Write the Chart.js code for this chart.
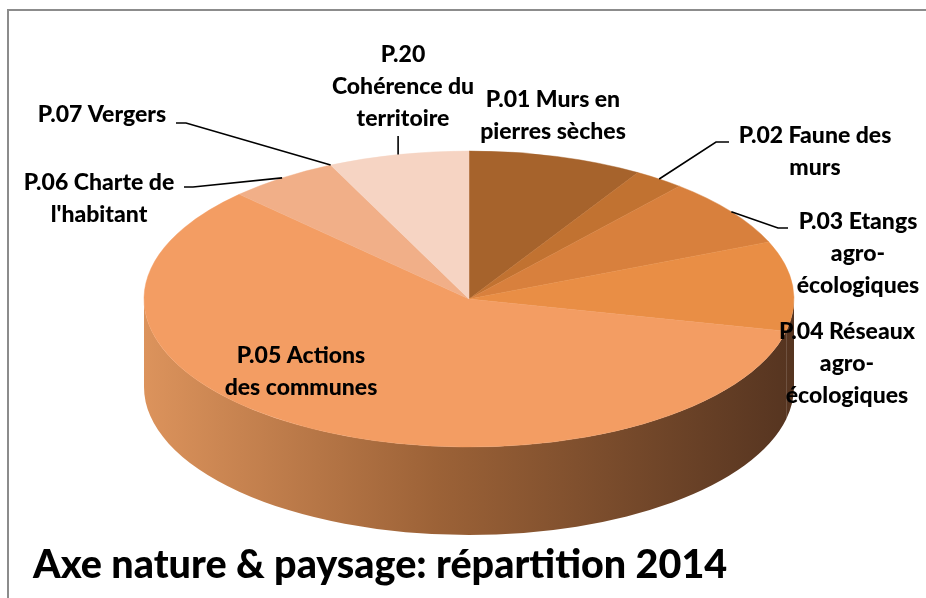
<!DOCTYPE html>
<html>
<head>
<meta charset="utf-8">
<script src="https://cdn.jsdelivr.net/npm/chart.js@4"></script>
<style>
  html, body { margin: 0; padding: 0; background: #fff; }
  #wrap { width: 926px; height: 598px; }
</style>
</head>
<body>
<div id="wrap"><canvas id="pie3d" width="926" height="598"></canvas></div>
<script>
// données
const categories = [
    ['P.01 Murs en', 'pierres sèches'],
    ['P.02 Faune des', 'murs'],
    ['P.03 Etangs', 'agro-', 'écologiques'],
    ['P.04 Réseaux', 'agro-', 'écologiques'],
    ['P.05 Actions', 'des communes'],
    ['P.06 Charte de', "l'habitant"],
    ['P.07 Vergers'],
    ['P.20', 'Cohérence du', 'territoire']
];
const shares = [8.7, 2.5, 7.5, 9.8, 59.0, 5.5, 0, 7.0];
const sliceColors = ['#A6632C', '#C17231', '#D8803D', '#E98E45', '#F39D63', '#F1AF88', '#F3C2A6', '#F6D4C3'];
const chartTitle = 'Axe nature & paysage: répartition 2014';

// mise en page de la "3D"
const CX = 469, CY = 299, RX = 325, RY = 148, DEPTH = 88;
const LINE_H = 32;
const labelLayout = [
    { x: 553, y: 100 },
    { x: 815, y: 136, leader: [[716, 142], [729, 142]] },
    { x: 858, y: 222, leader: [[778, 228], [788, 228]] },
    { x: 847, y: 332 },
    { x: 301, y: 356 },
    { x: 99, y: 183, leader: [[193, 187], [184, 187]] },
    { x: 102, y: 115, leader: [[186, 123], [176, 123]] },
    { x: 403, y: 55, leader: [[null, 136]] }
];

const pie3d = {
    id: 'pie3d',
    beforeDraw(chart) {
        const c = chart.ctx;
        c.save();
        c.strokeStyle = '#8c8c8c';
        c.lineWidth = 2;
        c.beginPath();
        c.moveTo(8, 598); c.lineTo(8, 10); c.lineTo(926, 10);
        c.stroke();
        c.restore();
    },
    beforeDatasetsDraw(chart) {
        const c = chart.ctx;
        const arcs = chart.getDatasetMeta(0).data;
        // bord du camembert (face avant seulement)
        const g = c.createLinearGradient(CX - RX, 0, CX + RX, 0);
        g.addColorStop(0, '#DC935C');
        g.addColorStop(0.45, '#9C6237');
        g.addColorStop(1, '#553420');
        arcs.forEach(a => {
            const p = a.getProps(['startAngle', 'endAngle'], true);
            const lo = Math.max(p.startAngle, 0), hi = Math.min(p.endAngle, Math.PI);
            if (hi <= lo) return;
            c.beginPath();
            c.ellipse(CX, CY, RX, RY, 0, lo, hi);
            c.ellipse(CX, CY + DEPTH, RX, RY, 0, hi, lo, true);
            c.closePath();
            c.fillStyle = g;
            c.fill();
        });
        // face du dessus : on écrase le cercle en ellipse
        const p0 = arcs[0].getProps(['x', 'y', 'outerRadius'], true);
        c.save();
        c.translate(CX, CY);
        c.scale(RX / p0.outerRadius, RY / p0.outerRadius);
        c.translate(-p0.x, -p0.y);
    },
    afterDatasetsDraw(chart) {
        const c = chart.ctx;
        c.restore();
        const arcs = chart.getDatasetMeta(0).data;
        c.save();
        c.font = '900 23px Lato';
        c.fillStyle = '#000';
        c.textAlign = 'center';
        c.textBaseline = 'middle';
        categories.forEach((lines, i) => {
            const L = labelLayout[i];
            lines.forEach((s, k) => c.fillText(s, L.x, L.y + k * LINE_H));
            if (!L.leader) return;
            const p = arcs[i].getProps(['startAngle', 'endAngle'], true);
            const m = (p.startAngle + p.endAngle) / 2;
            const rx = CX + RX * Math.cos(m), ry = CY + RY * Math.sin(m);
            c.strokeStyle = '#000';
            c.lineWidth = 1.6;
            c.beginPath();
            c.moveTo(rx, ry);
            L.leader.forEach(pt => c.lineTo(pt[0] === null ? rx : pt[0], pt[1]));
            c.stroke();
        });
        c.restore();
    }
};

new Chart(document.getElementById('pie3d'), {
    type: 'pie',
    data: {
        labels: categories,
        datasets: [{
            data: shares,
            backgroundColor: sliceColors,
            borderColor: sliceColors,
            borderWidth: 0.5
        }]
    },
    options: {
        responsive: false,
        animation: false,
        devicePixelRatio: 1,
        layout: { padding: { left: 33, top: 20 } },
        plugins: {
            legend: { display: false },
            tooltip: { enabled: false },
            title: {
                display: true,
                text: chartTitle,
                position: 'bottom',
                align: 'start',
                color: '#000',
                font: { family: 'Lato', size: 39.5, weight: 900 },
                padding: { top: 0, bottom: 9 }
            }
        }
    },
    plugins: [pie3d]
});
</script>
</body>
</html>
